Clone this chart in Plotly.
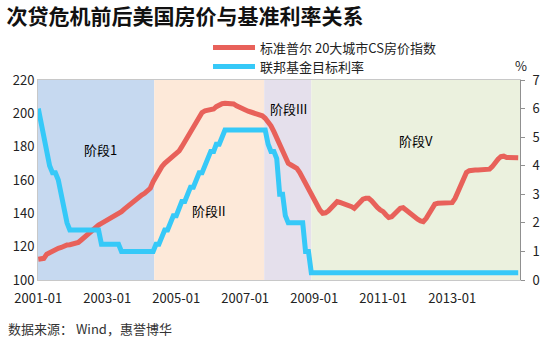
import pandas as pd
import plotly.graph_objects as go

# ---------------- data ----------------
months = pd.date_range("2001-01-01", periods=168, freq="MS")

hp_2001 = [112.5, 112.5, 113, 115.5, 116.5, 117.5, 118.5, 119, 119.5, 120.5, 121, 121.2]
hp_2002 = [121.5, 121.6, 122.5, 124, 125.5, 127.5, 129, 130.5, 132, 133, 134, 135]
hp_2003 = [136, 136.8, 137.5, 138.5, 139.5, 141, 142.5, 144, 145.5, 147, 148.5, 150]
hp_2004 = [151, 152, 153.5, 155, 159, 162, 165.5, 168, 170, 171.5, 173, 174.5]
hp_2005 = [175.5, 177.5, 180, 183, 186.5, 190, 193, 196, 198.5, 200.5, 201.5, 202]
hp_2006 = [202.2, 202.6, 204, 205.3, 205.8, 206, 206, 206, 205.6, 204.5, 203.5, 202.5]
hp_2007 = [202, 201.3, 200.8, 200.4, 200, 199.3, 198.5, 197, 195, 192.5, 189, 185]
hp_2008 = [181, 176.5, 172.5, 170, 169, 168, 167, 164.5, 161, 158, 154.5, 151]
hp_2009 = [148, 145, 142, 140, 140.3, 141.5, 143.5, 145.5, 147, 146.5, 146, 145.6]
hp_2010 = [145, 144, 143, 145, 147, 148.5, 149, 149, 147.5, 145, 143.5, 142]
hp_2011 = [141, 139, 137.5, 138, 140, 142, 143, 143.4, 142, 140, 138.5, 137.5]
hp_2012 = [136.5, 135.5, 135, 137, 140, 143, 145.5, 146, 146, 146, 146, 146.2]
hp_2013 = [146.4, 149, 153, 157.5, 161.5, 164.5, 165.6, 166, 166, 166, 166, 166.3]
hp_2014 = [166.5, 166.5, 168, 170.5, 172.5, 174, 174.3, 173.5, 173.5, 173.4, 173.3, 173.3]
house_price = (hp_2001 + hp_2002 + hp_2003 + hp_2004 + hp_2005 + hp_2006 + hp_2007
               + hp_2008 + hp_2009 + hp_2010 + hp_2011 + hp_2012 + hp_2013 + hp_2014)

ff_2001 = [6.0, 5.5, 5.0, 4.5, 4.0, 3.75, 3.75, 3.5, 3.0, 2.5, 2.0, 1.75]
ff_2002 = [1.75] * 10 + [1.25, 1.25]
ff_2003 = [1.25] * 5 + [1.0] * 7
ff_2004 = [1.0] * 5 + [1.25, 1.25, 1.5, 1.75, 1.75, 2.0, 2.25]
ff_2005 = [2.25, 2.5, 2.75, 2.75, 3.0, 3.25, 3.25, 3.5, 3.75, 3.75, 4.0, 4.25]
ff_2006 = [4.5, 4.5, 4.75, 4.75, 5.0] + [5.25] * 7
ff_2007 = [5.25] * 8 + [4.75, 4.5, 4.5, 4.25]
ff_2008 = [3.0, 3.0, 2.25, 2.0, 2.0, 2.0, 2.0, 2.0, 2.0, 1.0, 1.0, 0.25]
ff_2009_2014 = [0.25] * 72
fed_rate = (ff_2001 + ff_2002 + ff_2003 + ff_2004 + ff_2005 + ff_2006 + ff_2007
            + ff_2008 + ff_2009_2014)

phase_names = ["阶段1", "阶段II", "阶段III", "阶段V"]
phase_bounds = ["2000-12-29", "2004-05-13", "2007-07-21", "2008-12-01", "2014-12-20"]
phase_colors = ["#C6D9F0", "#FDE9D9", "#E5E0EC", "#EBF1DE"]
phase_label_pos = [("2002-10-18", 178.6), ("2005-12-18", 141.6),
                   ("2008-04-04", 203.2), ("2011-12-10", 184)]

series_names = ["标准普尔 20大城市CS房价指数", "联邦基金目标利率"]
series_colors = ["#E8615A", "#36C9F8"]

FONT = "Noto Sans CJK SC"

fig = go.Figure()
fig.add_trace(go.Scatter(x=months, y=house_price, name=series_names[0], mode="lines",
                         line=dict(color=series_colors[0], width=5), yaxis="y"))
fig.add_trace(go.Scatter(x=months, y=fed_rate, name=series_names[1], mode="lines",
                         line=dict(color=series_colors[1], width=5), yaxis="y2"))

shapes = []
for i in range(4):
    shapes.append(dict(type="rect", xref="x", yref="paper", x0=phase_bounds[i],
                       x1=phase_bounds[i + 1], y0=0, y1=1, fillcolor=phase_colors[i],
                       line=dict(width=0), layer="below"))

annotations = []
for name, (px, py) in zip(phase_names, phase_label_pos):
    annotations.append(dict(x=px, y=py, xref="x", yref="y", text=name, showarrow=False,
                            font=dict(family=FONT, size=13, color="#000000")))

# legend drawn by hand (longer line samples, tighter spacing like the original)
legend_rows = [1.162, 1.067]
for name, color, ly in zip(series_names, series_colors, legend_rows):
    shapes.append(dict(type="line", xref="paper", yref="paper", x0=0.3631, x1=0.4502,
                       y0=ly, y1=ly, line=dict(color=color, width=5)))
    annotations.append(dict(x=0.4564, y=ly, xref="paper", yref="paper", text=name,
                            showarrow=False, xanchor="left", yanchor="middle",
                            font=dict(family=FONT, size=13, color="#222222")))

annotations.append(dict(x=1.0187, y=1.075, xref="paper", yref="paper", text="%",
                        showarrow=False, yanchor="middle",
                        font=dict(family=FONT, size=13, color="#222222")))
annotations.append(dict(x=-0.066, y=-0.24, xref="paper", yref="paper",
                        text="数据来源： Wind，惠誉博华", showarrow=False, xanchor="left",
                        yanchor="middle", font=dict(family=FONT, size=13, color="#333333")))

fig.update_layout(
    width=543, height=337, autosize=False,
    margin=dict(l=38, r=23, t=80, b=57, autoexpand=False),
    paper_bgcolor="white", plot_bgcolor="white",
    font=dict(family=FONT, size=13, color="#222222"),
    title=dict(text="<b>次贷危机前后美国房价与基准利率关系</b>", x=0.012, xanchor="left",
               y=0.95, yanchor="middle",
               font=dict(family=FONT, size=21, color="#111111")),
    showlegend=False,
    xaxis=dict(type="date", range=["2000-12-29", "2014-12-20"], tickformat="%Y-%m",
               dtick="M24", tick0="2001-01-01", showgrid=False, showline=True,
               linecolor="#C8C8C8", linewidth=1, mirror=True, ticks="", zeroline=False,
               tickfont=dict(size=13), ticklabelstandoff=6, automargin=False),
    yaxis=dict(range=[100, 220], dtick=20, showgrid=False, showline=True,
               linecolor="#C8C8C8", ticks="", zeroline=False, tickfont=dict(size=13),
               automargin=False),
    yaxis2=dict(range=[0, 7], dtick=1, overlaying="y", side="right", showgrid=False,
                showline=True, linecolor="#909090", ticks="outside", ticklen=4,
                tickcolor="#909090", zeroline=False, tickfont=dict(size=13),
                ticklabelstandoff=5, automargin=False),
    shapes=shapes,
    annotations=annotations,
)

fig.write_html("out.html")
